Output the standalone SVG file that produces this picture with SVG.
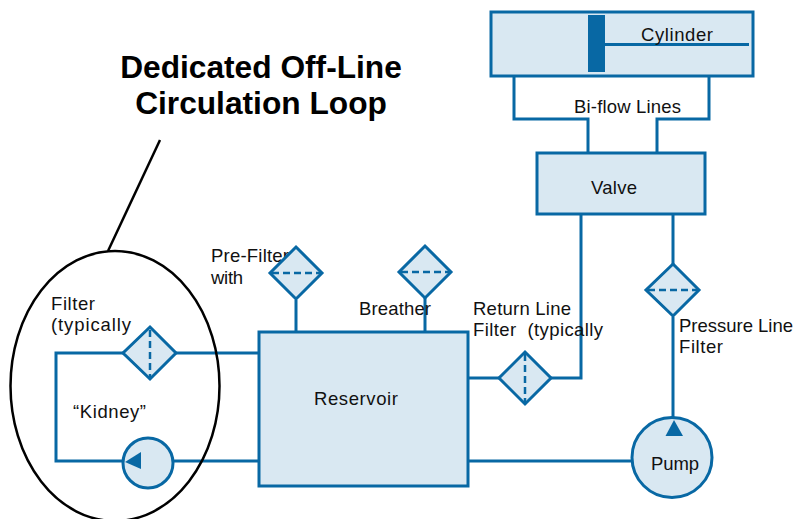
<svg xmlns="http://www.w3.org/2000/svg" width="796" height="519" viewBox="0 0 796 519">
<style>
.n{fill:#d9e8f2;stroke:#0868a4;stroke-width:3}
.c{fill:none;stroke:#0868a4;stroke-width:3}
.d{fill:none;stroke:#0868a4;stroke-width:2.5;stroke-dasharray:7 4}
.s{fill:#0868a4;stroke:none}
.k{fill:none;stroke:#000;stroke-width:2.5}
text{font-family:"Liberation Sans",Arial,sans-serif;font-size:18.5px;fill:#111;white-space:pre}
.t{font-size:31.7px;font-weight:bold;fill:#000;text-anchor:middle}
</style>
<g id="connectors">
<path class="c" d="M514 76V119H588V153M709 76V119H657V153M581 214V378H551M468 378H499M673 214V264M673 317V418M468 461H632M296 300V332M425 298V332M176 353H259M123 353H56V461H122M173 461H259"/>
</g>
<g id="cylinder"><rect class="n" x="491" y="12" width="262" height="64"/><rect class="s" x="588" y="15" width="17" height="57"/><path class="c" d="M604 44.500H749"/><text x="641" y="41" textLength="72">Cylinder</text></g>
<g id="bi-flow"><text x="574" y="113" textLength="107">Bi-flow Lines</text></g>
<g id="valve"><rect class="n" x="537" y="153" width="168" height="61"/><text x="591" y="194" textLength="46">Valve</text></g>
<g id="reservoir"><rect class="n" x="259" y="332" width="209" height="154"/><text x="314" y="405" textLength="84">Reservoir</text></g>
<g id="pump"><circle class="n" cx="672" cy="457.500" r="40"/><path class="s" d="M674 420L665.500 436H683Z"/><text x="651" y="470" textLength="48">Pump</text></g>
<g id="kidney-pump"><circle class="n" cx="148" cy="463" r="25"/><path class="s" d="M125 462L141 452V469Z"/></g>
<g id="kidney-filter"><path class="n" d="M150 327L176 353L150 379L123 353Z"/><path class="d" d="M150 330V377"/><text x="51" y="310" textLength="44">Filter</text><text x="51" y="331" textLength="80">(typically</text><text x="73" y="418" textLength="73">“Kidney”</text></g>
<g id="pre-filter"><text x="211" y="262" textLength="78">Pre-Filter</text><text x="211" y="284" textLength="32">with</text><path class="n" d="M296 247L322 273L296 299L270 273Z"/><path class="d" d="M272 273H320"/></g>
<g id="breather"><path class="n" d="M425 246L451 272L425 298L399 272Z"/><path class="d" d="M401 272H449"/><text x="359" y="315" textLength="72">Breather</text></g>
<g id="return-filter"><path class="n" d="M525 352L551 378L525 404L499 378Z"/><path class="d" d="M525 354V402"/><text x="473" y="315" textLength="98">Return Line</text><text x="473" y="336" textLength="130">Filter  (typically</text></g>
<g id="pressure-filter"><path class="n" d="M673 264L699 290L673 316L646 290Z"/><path class="d" d="M648 290H697"/><text x="679" y="332" textLength="114">Pressure Line</text><text x="679" y="353" textLength="44">Filter</text></g>
<g id="loop"><ellipse class="k" cx="115" cy="386" rx="104.500" ry="135"/><path class="k" d="M108 251L160 140"/><text class="t" x="261" y="78">Dedicated Off-Line</text><text class="t" x="261" y="114">Circulation Loop</text></g>
</svg>
